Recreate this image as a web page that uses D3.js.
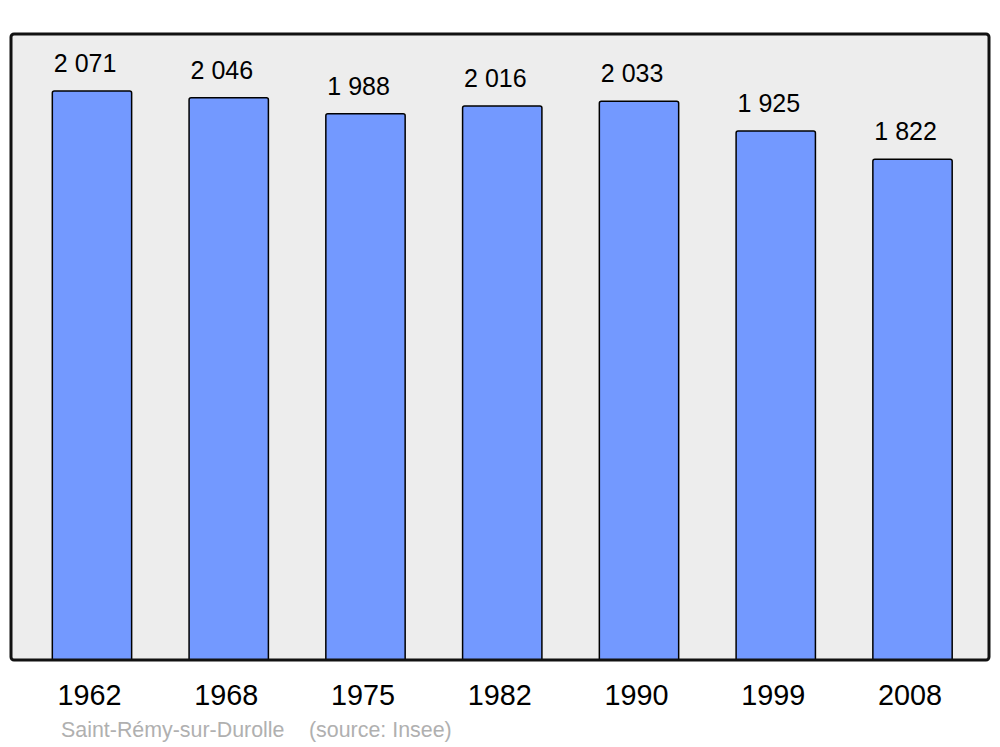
<!DOCTYPE html>
<html>
<head>
<meta charset="utf-8">
<script src="https://cdn.jsdelivr.net/npm/d3@7"></script>
<style>
  body { margin: 0; background: #fff; }
  svg { display: block; font-family: "Liberation Sans", Arial, sans-serif; }
</style>
</head>
<body>
<svg width="1000" height="747"></svg>
<script>
// population data
const years = ['1962', '1968', '1975', '1982', '1990', '1999', '2008'];
const population = [2071, 2046, 1988, 2016, 2033, 1925, 1822];
const valueLabels = ['2 071', '2 046', '1 988', '2 016', '2 033', '1 925', '1 822'];
const commune = 'Saint-Rémy-sur-Durolle';
const source = '(source: Insee)';

const width = 1000;
const height = 747;
const panel = {left: 11, top: 34, right: 989, bottom: 660};

let svg = d3.select('svg');

// background panel
svg.append('rect')
  .attr('x', panel.left)
  .attr('y', panel.top)
  .attr('width', panel.right - panel.left)
  .attr('height', panel.bottom - panel.top)
  .attr('rx', 3)
  .attr('fill', '#ededed');

// scales
const xScale = d3.scaleBand()
  .domain(years)
  .range([23.6, 980.9])
  .paddingInner(0.42)
  .paddingOuter(0.21);

const yScale = d3.scaleLinear()
  .domain([0, d3.max(population) * 1.1])
  .range([panel.bottom, panel.top]);

const data = years.map((y, i) => ({year: y, value: population[i], label: valueLabels[i]}));

// bars (top corners slightly rounded)
svg.selectAll('path.bar')
  .data(data)
  .enter().append('path')
  .attr('class', 'bar')
  .attr('d', d => {
    const x0 = xScale(d.year), x1 = x0 + xScale.bandwidth();
    const y0 = yScale(d.value), y1 = yScale(0);
    const r = 2;
    return `M${x0},${y1}V${y0 + r}Q${x0},${y0} ${x0 + r},${y0}H${x1 - r}Q${x1},${y0} ${x1},${y0 + r}V${y1}`;
  })
  .attr('fill', '#7399ff')
  .attr('stroke', '#000')
  .attr('stroke-width', 1.5);

// value labels, left aligned on the bar
svg.selectAll('text.value')
  .data(data)
  .enter().append('text')
  .attr('class', 'value')
  .attr('x', d => xScale(d.year) + 1.5)
  .attr('y', d => yScale(d.value) - 19)
  .style('font-size', '25px')
  .attr('fill', '#000')
  .text(d => d.label);

// panel border on top
svg.append('rect')
  .attr('x', panel.left)
  .attr('y', panel.top)
  .attr('width', panel.right - panel.left)
  .attr('height', panel.bottom - panel.top)
  .attr('rx', 3)
  .attr('fill', 'none')
  .attr('stroke', '#111')
  .attr('stroke-width', 3);

// x axis labels
const xAxis = d3.axisBottom(xScale).tickSize(0).tickPadding(0);
let xAxisG = svg.append('g')
  .attr('transform', `translate(-2.5, 705)`)
  .call(xAxis);
xAxisG.select('.domain').remove();
xAxisG.selectAll('text')
  .attr('dy', 0)
  .attr('y', 0)
  .style('font-size', '28.8px')
  .style('font-family', '"Liberation Sans", Arial, sans-serif')
  .attr('fill', '#000');

// footer
svg.append('text')
  .attr('x', 61)
  .attr('y', 737)
  .style('font-size', '21.4px')
  .attr('fill', '#b0b0b0')
  .text(commune);
svg.append('text')
  .attr('x', 309)
  .attr('y', 737)
  .style('font-size', '21.4px')
  .attr('fill', '#b0b0b0')
  .text(source);
</script>
</body>
</html>
